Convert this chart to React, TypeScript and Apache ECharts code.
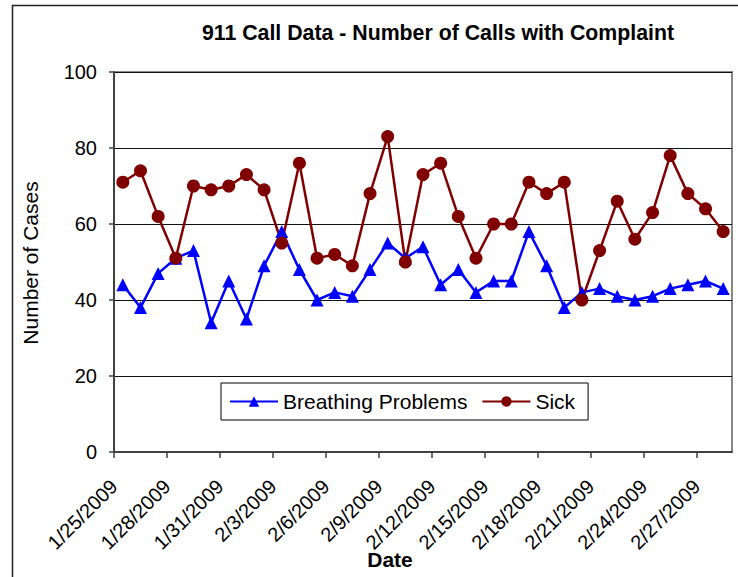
import React, { useEffect, useRef } from "react";
import * as echarts from "echarts";

const dates = [
  "1/25/2009", "1/26/2009", "1/27/2009", "1/28/2009", "1/29/2009", "1/30/2009", "1/31/2009",
  "2/1/2009", "2/2/2009", "2/3/2009", "2/4/2009", "2/5/2009", "2/6/2009", "2/7/2009",
  "2/8/2009", "2/9/2009", "2/10/2009", "2/11/2009", "2/12/2009", "2/13/2009", "2/14/2009",
  "2/15/2009", "2/16/2009", "2/17/2009", "2/18/2009", "2/19/2009", "2/20/2009", "2/21/2009",
  "2/22/2009", "2/23/2009", "2/24/2009", "2/25/2009", "2/26/2009", "2/27/2009", "2/28/2009",
];

const breathing = [
  44, 38, 47, 51, 53, 34, 45, 35, 49, 58, 48, 40, 42, 41, 48, 55, 51, 54,
  44, 48, 42, 45, 45, 58, 49, 38, 42, 43, 41, 40, 41, 43, 44, 45, 43,
];

const sick = [
  71, 74, 62, 51, 70, 69, 70, 73, 69, 55, 76, 51, 52, 49, 68, 83, 50, 73,
  76, 62, 51, 60, 60, 71, 68, 71, 40, 53, 66, 56, 63, 78, 68, 64, 58,
];

const yTicks = [0, 20, 40, 60, 80, 100];
const labelEvery = 3;

const FONT = "Liberation Sans, Arial, sans-serif";

export default function App() {
  const ref = useRef<HTMLDivElement>(null);

  useEffect(() => {
    if (!ref.current) return;
    const chart = echarts.init(ref.current, undefined, { renderer: "svg" });
    const tickIdx = dates.map((_, i) => i).filter((i) => i % labelEvery === 0);
    const toPts = (arr: number[]) => arr.map((v, i) => [i + 0.5, v]);

    chart.setOption({
      animation: false,
      backgroundColor: "#fff",
      textStyle: { fontFamily: FONT },
      grid: {
        left: 114,
        top: 72,
        right: 6,
        bottom: 125,
        show: true,
        borderColor: "#888",
        borderWidth: 2,
        backgroundColor: "#fff",
        outerBoundsMode: "none",
        containLabel: false,
      },
      graphic: [
        {
          type: "rect",
          shape: { x: 12.5, y: 5.5, width: 1000, height: 1000 },
          style: { fill: "none", stroke: "#222", lineWidth: 1.5 },
          silent: true,
          z: -1,
        },
        {
          type: "text",
          x: 438,
          y: 33,
          style: {
            text: "911 Call Data - Number of Calls with Complaint",
            font: `bold 21.3px ${FONT}`,
            fill: "#000",
            textAlign: "center",
            textVerticalAlign: "middle",
          },
        },
        {
          type: "text",
          x: 30,
          y: 263,
          rotation: Math.PI / 2,
          style: {
            text: "Number of Cases",
            font: `21px ${FONT}`,
            fill: "#000",
            textAlign: "center",
            textVerticalAlign: "middle",
          },
        },
        {
          type: "text",
          x: 390,
          y: 559,
          style: {
            text: "Date",
            font: `bold 21px ${FONT}`,
            fill: "#000",
            textAlign: "center",
            textVerticalAlign: "middle",
          },
          z: 100,
        },
      ],
      legend: {
        left: 221,
        top: 383,
        orient: "horizontal",
        backgroundColor: "#fff",
        borderColor: "#000",
        borderWidth: 1,
        padding: [8, 13, 8, 8],
        itemWidth: 48,
        itemHeight: 13,
        itemGap: 14,
        textStyle: { fontSize: 21, color: "#000", fontFamily: FONT },
        data: ["Breathing Problems", "Sick"],
      },
      xAxis: {
        type: "value",
        min: 0,
        max: dates.length,
        interval: labelEvery,
        axisLine: { show: true, lineStyle: { color: "#404040", width: 2 } },
        axisTick: {
          show: true,
          inside: false,
          length: 6,
          lineStyle: { color: "#404040", width: 1.5 },
          customValues: tickIdx,
        },
        axisLabel: {
          rotate: 45,
          margin: 31,
          fontSize: 20,
          color: "#000",
          fontFamily: FONT,
          customValues: tickIdx,
          formatter: (v: number) => dates[Math.round(v)] ?? "",
        },
        splitLine: { show: false },
      },
      yAxis: {
        type: "value",
        min: yTicks[0],
        max: yTicks[yTicks.length - 1],
        interval: 20,
        axisLine: { show: true, lineStyle: { color: "#404040", width: 2 } },
        axisTick: { show: true, inside: false, length: 5, lineStyle: { color: "#404040", width: 1.5 } },
        axisLabel: { fontSize: 20, color: "#000", margin: 17, fontFamily: FONT },
        splitLine: { show: true, lineStyle: { color: "#111", width: 1 } },
      },
      series: [
        {
          name: "Breathing Problems",
          type: "line",
          data: toPts(breathing),
          symbol: "triangle",
          symbolSize: 13,
          lineStyle: { color: "#0000FF", width: 2.5 },
          itemStyle: { color: "#0000FF" },
        },
        {
          name: "Sick",
          type: "line",
          data: toPts(sick),
          symbol: "circle",
          symbolSize: 13,
          lineStyle: { color: "#800000", width: 2.5 },
          itemStyle: { color: "#800000" },
        },
      ],
    });

    return () => chart.dispose();
  }, []);

  return (
    <div
      ref={ref}
      style={{ position: "fixed", left: 0, top: 0, width: 738, height: 577, background: "#fff" }}
    />
  );
}
